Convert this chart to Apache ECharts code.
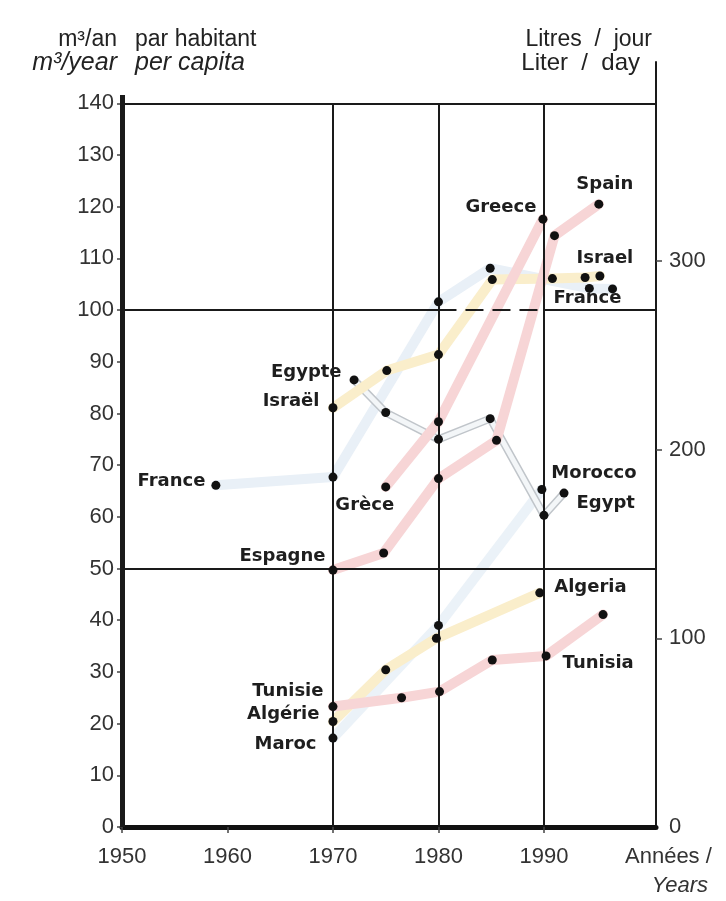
<!DOCTYPE html>
<html>
<head>
<meta charset="utf-8">
<script src="https://cdn.jsdelivr.net/npm/echarts@6/dist/echarts.min.js"></script>
<style>
html, body { margin: 0; padding: 0; background: #fff; }
#chart { width: 726px; height: 901px; }
</style>
</head>
<body>
<div id="chart"></div>
<script>
// water use per capita, m3/year (left) and litres/day (right)
var yearTicks = [1950, 1960, 1970, 1980, 1990];
var leftTicks = [0, 10, 20, 30, 40, 50, 60, 70, 80, 90, 100, 110, 120, 130, 140];
var rightTicks = [0, 100, 200, 300];
var franceData  = [[1958.9, 66.1], [1970, 67.7], [1980, 101.6], [1984.9, 108.1], [1994.3, 104.2], [1996.5, 104.1]];
var israelData  = [[1970, 81.1], [1975.1, 88.3], [1980, 91.4], [1985.1, 105.9], [1990.8, 106.1], [1993.9, 106.3], [1995.3, 106.6]];
var egyptData   = [[1972, 86.5], [1975, 80.2], [1980, 75.0], [1984.9, 79.0], [1990, 60.3], [1991.9, 64.6]];
var greeceData  = [[1975, 65.8], [1980, 78.4], [1989.9, 117.6]];
var spainData   = [[1970, 49.7], [1974.8, 53.0], [1980, 67.4], [1985.5, 74.8], [1991, 114.4], [1995.2, 120.5]];
var moroccoData = [[1970, 17.2], [1980, 39.0], [1989.8, 65.3]];
var algeriaData = [[1970, 20.4], [1975, 30.4], [1979.8, 36.5], [1989.6, 45.3]];
var tunisiaData = [[1970, 23.3], [1976.5, 25.0], [1980.1, 26.2], [1985.1, 32.3], [1990.2, 33.1], [1995.6, 41.1]];

var font = 'Liberation Sans';
var xMax = 2000.62;
var pink = '#f7d5d6', yellow = '#faeecb', blue = '#e9f0f7';

var countries = [
  { data: franceData, color: blue, labels: [[0, 'France', 'left', 6, [0, -4]], [-1, 'France', 'bottom', 0, [-25, -4]]] },
  { data: moroccoData, color: '#ebf2f8', labels: [[0, 'Maroc', 'left', 12, [0, 6]], [-1, 'Morocco', 'right', 5, [0, -16]]] },
  { data: egyptData, color: '#f3f6f8', outline: true, labels: [[0, 'Egypte', 'left', 0, [-8, -8]], [-1, 'Egypt', 'right', 8, [0, 10]]] },
  { data: israelData, color: yellow, labels: [[0, 'Israël', 'left', 9, [0, -6]], [-1, 'Israel', 'top', 4, [5, 0]]] },
  { data: algeriaData, color: yellow, labels: [[0, 'Algérie', 'left', 9, [0, -7]], [-1, 'Algeria', 'right', 10, [0, -6]]] },
  { data: tunisiaData, color: pink, labels: [[0, 'Tunisie', 'left', 5, [0, -15]], [4, 'Tunisia', 'right', 12, [0, 7]]] },
  { data: greeceData, color: pink, labels: [[0, 'Grèce', 'bottom', 5, [-21, 0]], [-1, 'Greece', 'left', 2, [0, -12]]] },
  { data: spainData, color: pink, labels: [[0, 'Espagne', 'left', 3, [0, -14]], [-1, 'Spain', 'top', 6, [6, 0]]] }
];

var series = [];
countries.forEach(function (c) {
  if (c.outline) {
    series.push({ type: 'line', data: c.data, showSymbol: false, silent: true, z: 2,
      lineStyle: { width: 8, color: '#c0c5ca', cap: 'round', join: 'round' } });
  }
  series.push({ type: 'line', data: c.data, showSymbol: false, silent: true, z: 2,
    lineStyle: { width: c.outline ? 5 : 10, color: c.color, cap: 'round', join: 'round' } });
});
countries.forEach(function (c) {
  var pts = c.data.map(function (p, i) {
    var item = { value: p };
    c.labels.forEach(function (l) {
      var idx = l[0] < 0 ? c.data.length - 1 : l[0];
      if (idx === i) {
        item.label = { show: true, formatter: l[1], position: l[2], distance: l[3], offset: l[4],
          fontSize: 18, fontWeight: 'bold', color: '#1e1e1e', fontFamily: 'DejaVu Sans' };
      }
    });
    return item;
  });
  series.push({ type: 'scatter', data: pts, symbolSize: 9, z: 6, silent: true,
    itemStyle: { color: '#111', opacity: 1 } });
});

function seg(a, b, w, dashed) {
  return [{ coord: a, lineStyle: { width: w, color: '#1a1a1a', type: dashed ? [18, 9] : 'solid' } }, { coord: b }];
}
series.push({
  type: 'line', data: [[1950, 0]], showSymbol: false, silent: true, z: 4,
  lineStyle: { width: 0 },
  markLine: {
    symbol: 'none', silent: true, animation: false, label: { show: false },
    data: [
      seg([1950, 140], [xMax, 140], 2),
      seg([1950, 100], [1980, 100], 2),
      seg([1980, 100], [1990, 100], 2, true),
      seg([1990, 100], [xMax, 100], 2),
      seg([1950, 50], [xMax, 50], 2),
      seg([1970, 0], [1970, 140], 2),
      seg([1980, 0], [1980, 140], 2),
      seg([1990, 0], [1990, 140], 2),
      seg([1950, 0], [1950, 141.6], 5)
    ]
  }
});

var chart = echarts.init(document.getElementById('chart'));
chart.setOption({
  animation: false,
  backgroundColor: '#fff',
  grid: { left: 122, right: 70, top: 62, bottom: 74 },
  xAxis: {
    type: 'value', min: 1950, max: xMax,
    axisLine: { lineStyle: { color: '#111', width: 5 } },
    axisTick: { show: true, length: 6, customValues: yearTicks, lineStyle: { color: '#444', width: 1.5 } },
    axisLabel: { fontSize: 22, color: '#333', fontFamily: font, margin: 19, customValues: yearTicks,
      formatter: function (v) { return String(v); } },
    splitLine: { show: false }
  },
  yAxis: [{
    type: 'value', min: 0, max: 148, position: 'left',
    axisLine: { show: false },
    axisTick: { show: true, length: 5, customValues: leftTicks, lineStyle: { color: '#444', width: 1.5 } },
    axisLabel: { fontSize: 22, color: '#333', fontFamily: font, margin: 8, customValues: leftTicks },
    splitLine: { show: false }
  }, {
    type: 'value', min: 0, max: 148 * 1000 / 365, position: 'right',
    axisLine: { show: true, lineStyle: { color: '#1a1a1a', width: 2 } },
    axisTick: { show: true, length: 6, customValues: [100, 200, 300], lineStyle: { color: '#444', width: 1.5 } },
    axisLabel: { fontSize: 22, color: '#333', fontFamily: font, margin: 13, customValues: rightTicks },
    splitLine: { show: false }
  }],
  graphic: [
    { type: 'text', x: 117, y: 40, style: { text: 'm³/an', align: 'right', verticalAlign: 'middle', textAlign: 'right', textVerticalAlign: 'middle', font: '23px "Liberation Sans"', fill: '#222' } },
    { type: 'text', x: 135, y: 40, style: { text: 'par habitant', verticalAlign: 'middle', textVerticalAlign: 'middle', font: '23px "Liberation Sans"', fill: '#222' } },
    { type: 'text', x: 652, y: 40, style: { text: 'Litres  /  jour', align: 'right', verticalAlign: 'middle', textAlign: 'right', textVerticalAlign: 'middle', font: '23px "Liberation Sans"', fill: '#222' } },
    { type: 'text', x: 117, y: 63, style: { text: 'm³/year', align: 'right', verticalAlign: 'middle', textAlign: 'right', textVerticalAlign: 'middle', font: 'italic 25px "Liberation Sans"', fill: '#222' } },
    { type: 'text', x: 135, y: 63, style: { text: 'per capita', verticalAlign: 'middle', textVerticalAlign: 'middle', font: 'italic 25px "Liberation Sans"', fill: '#222' } },
    { type: 'text', x: 640, y: 63, style: { text: 'Liter  /  day', align: 'right', verticalAlign: 'middle', textAlign: 'right', textVerticalAlign: 'middle', font: '24px "Liberation Sans"', fill: '#222' } },
    { type: 'text', x: 625, y: 857, style: { text: 'Années /', verticalAlign: 'middle', textVerticalAlign: 'middle', font: '22px "Liberation Sans"', fill: '#333' } },
    { type: 'text', x: 708, y: 886, style: { text: 'Years', align: 'right', verticalAlign: 'middle', textAlign: 'right', textVerticalAlign: 'middle', font: 'italic 22px "Liberation Sans"', fill: '#333' } }
  ],
  series: series
});
</script>
</body>
</html>
